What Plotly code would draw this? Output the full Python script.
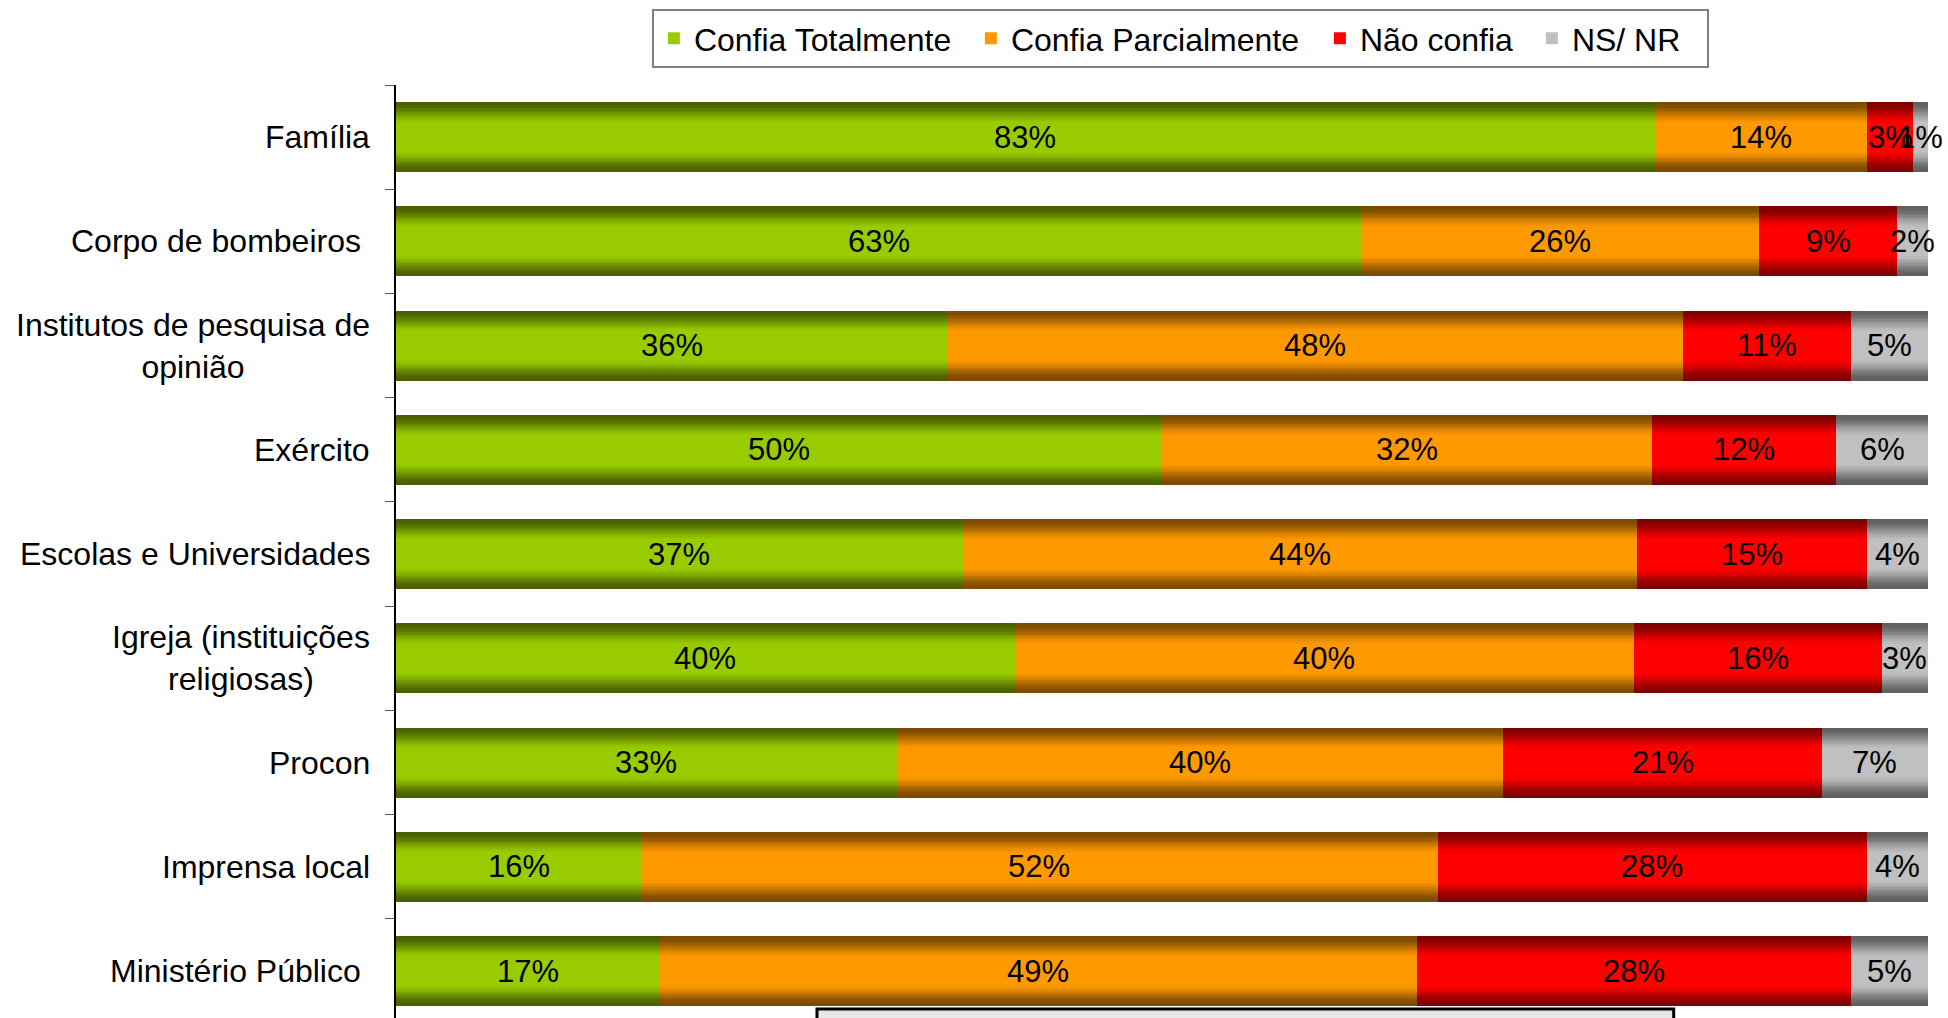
import plotly.graph_objects as go
import numpy as np

# ---------------- data ----------------
categories = [
    "Família",
    "Corpo de bombeiros\u00a0",
    "Institutos de pesquisa de<br>opinião",
    "Exército",
    "Escolas e Universidades",
    "Igreja (instituições<br>religiosas)",
    "Procon",
    "Imprensa local",
    "Ministério Público\u00a0",
]
series_names = ["Confia Totalmente", "Confia Parcialmente", "Não confia", "NS/ NR"]
confia_totalmente = [83, 63, 36, 50, 37, 40, 33, 16, 17]
confia_parcialmente = [14, 26, 48, 32, 44, 40, 40, 52, 49]
nao_confia = [3, 9, 11, 12, 15, 16, 21, 28, 28]
ns_nr = [1, 2, 5, 6, 4, 3, 7, 4, 5]

# ---------------- styles ----------------
edge_colors = [(0x4a, 0x60, 0x00), (0x7c, 0x4a, 0x00), (0x80, 0x00, 0x00), (0x60, 0x60, 0x60)]
center_colors = [(0x99, 0xcc, 0x00), (0xff, 0x99, 0x00), (0xff, 0x00, 0x00), (0xc0, 0xc0, 0xc0)]
legend_widths = [272, 304, 167, 130]
FONT = "Arial, Liberation Sans, sans-serif"
BAR_W = 0.67

series_vals = [confia_totalmente, confia_parcialmente, nao_confia, ns_nr]
vals = np.array(series_vals, dtype=float)
totals = vals.sum(axis=0)
pct = vals / totals * 100.0
starts = np.vstack([np.zeros(len(categories)), np.cumsum(pct, axis=0)[:-1]])


def mix(c1, c2, t):
    return "rgb(%d,%d,%d)" % tuple(round(a + (b - a) * t) for a, b in zip(c1, c2))


fig = go.Figure()
dvals = np.linspace(1.0, 0.38, 16)
for s, name in enumerate(series_names):
    for k, d in enumerate(dvals):
        t = min(1.0, (1.0 - d) / 0.62)
        t = t * t * (3 - 2 * t)
        fig.add_trace(go.Bar(
            y=categories, x=pct[s], base=starts[s], orientation="h",
            width=BAR_W * d,
            marker=dict(color=mix(edge_colors[s], center_colors[s], t),
                        line=dict(width=0)),
            name=name, legendgroup=name,
            showlegend=(k == len(dvals) - 1),
            legendwidth=legend_widths[s],
            hoverinfo="skip",
        ))

annotations = []
# value labels
for s in range(len(series_names)):
    for i, c in enumerate(categories):
        annotations.append(dict(
            xref="x", x=starts[s][i] + pct[s][i] / 2, yref="y", y=c,
            xanchor="center", yanchor="middle", yshift=0,
            text=f"{series_vals[s][i]}%", showarrow=False,
            font=dict(family=FONT, size=31, color="black"),
        ))

# category labels (centered multi-line)
for c in categories:
    annotations.append(dict(
        xref="paper", x=0, yref="y", y=c, xanchor="right", yanchor="middle",
        xshift=-24, text=c, showarrow=False, align="center",
        font=dict(family=FONT, size=32, color="black"),
    ))

fig.update_layout(
    width=1948, height=1018,
    margin=dict(l=396, r=20, t=85, b=0),
    paper_bgcolor="white", plot_bgcolor="white",
    barmode="overlay", bargap=0,
    font=dict(family=FONT, size=32, color="black"),
    annotations=annotations,
    legend=dict(
        orientation="h", x=0.512, xanchor="center", y=1.0815, yanchor="top",
        bordercolor="#808080", borderwidth=2, bgcolor="white",
        font=dict(family=FONT, size=32, color="black"),
        traceorder="normal",
    ),
    xaxis=dict(range=[0, 100], visible=False),
    yaxis=dict(
        type="category", categoryorder="array", categoryarray=categories,
        range=[8.45, -0.5], showline=True, linecolor="black", linewidth=1.5,
        ticks="outside", tickson="boundaries", ticklen=9, tickcolor="#555555",
        showticklabels=False, showgrid=False, zeroline=False,
    ),
    shapes=[dict(
        type="rect", xref="paper", yref="paper",
        x0=0.2748, x1=0.834, y0=-0.05, y1=0.0096,
        line=dict(color="black", width=3), fillcolor="#e8e8e8", layer="above",
    )],
)

fig.write_html("out.html", config={"displayModeBar": False},
               post_script="document.body.style.margin='0';")
